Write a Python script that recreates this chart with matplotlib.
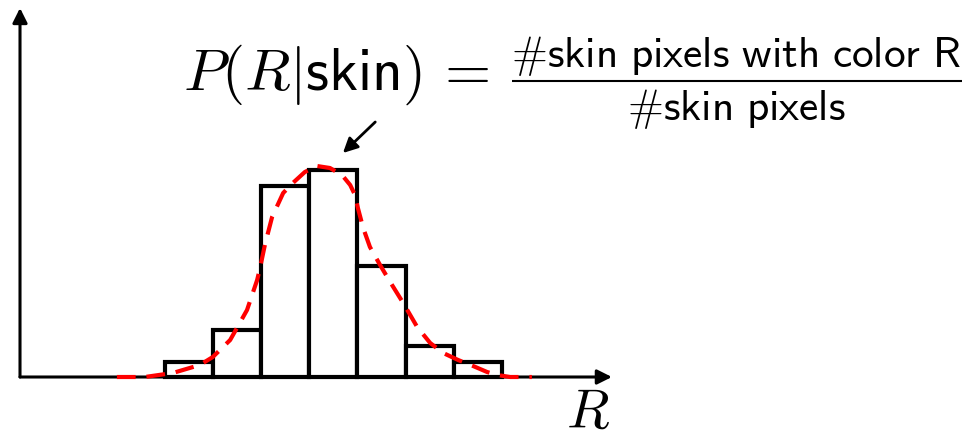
import matplotlib
matplotlib.use('Agg')
import matplotlib.pyplot as plt

plt.rcParams['mathtext.fontset'] = 'cm'

# histogram of R values for skin pixels (bin edges in R units, counts)
bin_start = 3
bin_width = 1
counts = [15, 47, 191, 207, 111, 31, 15]

# smooth density curve drawn over the histogram
curve_r = [2.01, 2.59, 3.17, 3.73, 4.00, 4.36, 4.71, 4.92, 4.98, 5.08, 5.23, 5.46,
           5.66, 5.91, 6.16, 6.43, 6.68, 6.85, 6.95, 7.01, 7.12, 7.26, 7.47, 7.68,
           7.95, 8.24, 8.51, 8.78, 9.09, 9.40, 9.69, 9.90, 10.17, 10.62]
curve_y = [0, 0, 4, 12, 20, 37, 67, 97, 109, 132, 160, 184,
           194, 205, 211, 209, 202, 192, 182, 169, 149, 130, 112, 95,
           74, 50, 34, 24, 17, 11, 5, 2, 0, 0]

# axis extents
r_max = 12.28
y_max = 369

lhs = r'$P(R|\mathsf{skin})\,=$'
numer = r'$\#\mathsf{skin\ pixels\ with\ color\ R}$'
denom = r'$\#\mathsf{skin\ pixels}$'

fig = plt.figure(figsize=(9.67, 4.37), dpi=100)
ax = fig.add_axes([0, 0, 1, 1])
ax.set_xlim(-0.415, 19.647)
ax.set_ylim(-60, 377)
ax.axis('off')

# axes with arrow heads
arrow = dict(arrowstyle='-|>', color='black', lw=2.2, mutation_scale=22, shrinkA=0, shrinkB=0)
ax.annotate('', xy=(r_max, 0), xytext=(0, 0), arrowprops=arrow)
ax.annotate('', xy=(0, y_max), xytext=(0, 0), arrowprops=arrow)

# histogram bars
lefts = [bin_start + i * bin_width for i in range(len(counts))]
ax.bar(lefts, counts, width=bin_width, align='edge', facecolor='white',
       edgecolor='black', linewidth=3, zorder=3)

# red dashed density
ax.plot(curve_r, curve_y, color='red', lw=3, linestyle=(0, (4.5, 2.6)), zorder=4)

# arrow pointing at the bars
ax.annotate('', xy=(6.70, 224), xytext=(7.37, 255),
            arrowprops=dict(arrowstyle='-|>', color='black', lw=2, mutation_scale=22,
                            shrinkA=0, shrinkB=0))

# formula: lhs, then the fraction built from two lines of text and a rule
ax.text(3.39, 287, lhs, fontsize=42.8, ha='left', va='baseline')
ax.text(14.85, 310, numer, fontsize=31.2, ha='center', va='baseline')
ax.text(14.87, 257, denom, fontsize=31.2, ha='center', va='baseline')
ax.plot([10.21, 19.54], [296, 296], color='black', lw=1.5, solid_capstyle='butt')

ax.text(11.78, -51, r'$R$', fontsize=40, ha='center', va='baseline')

fig.savefig('out.png', dpi=100)
